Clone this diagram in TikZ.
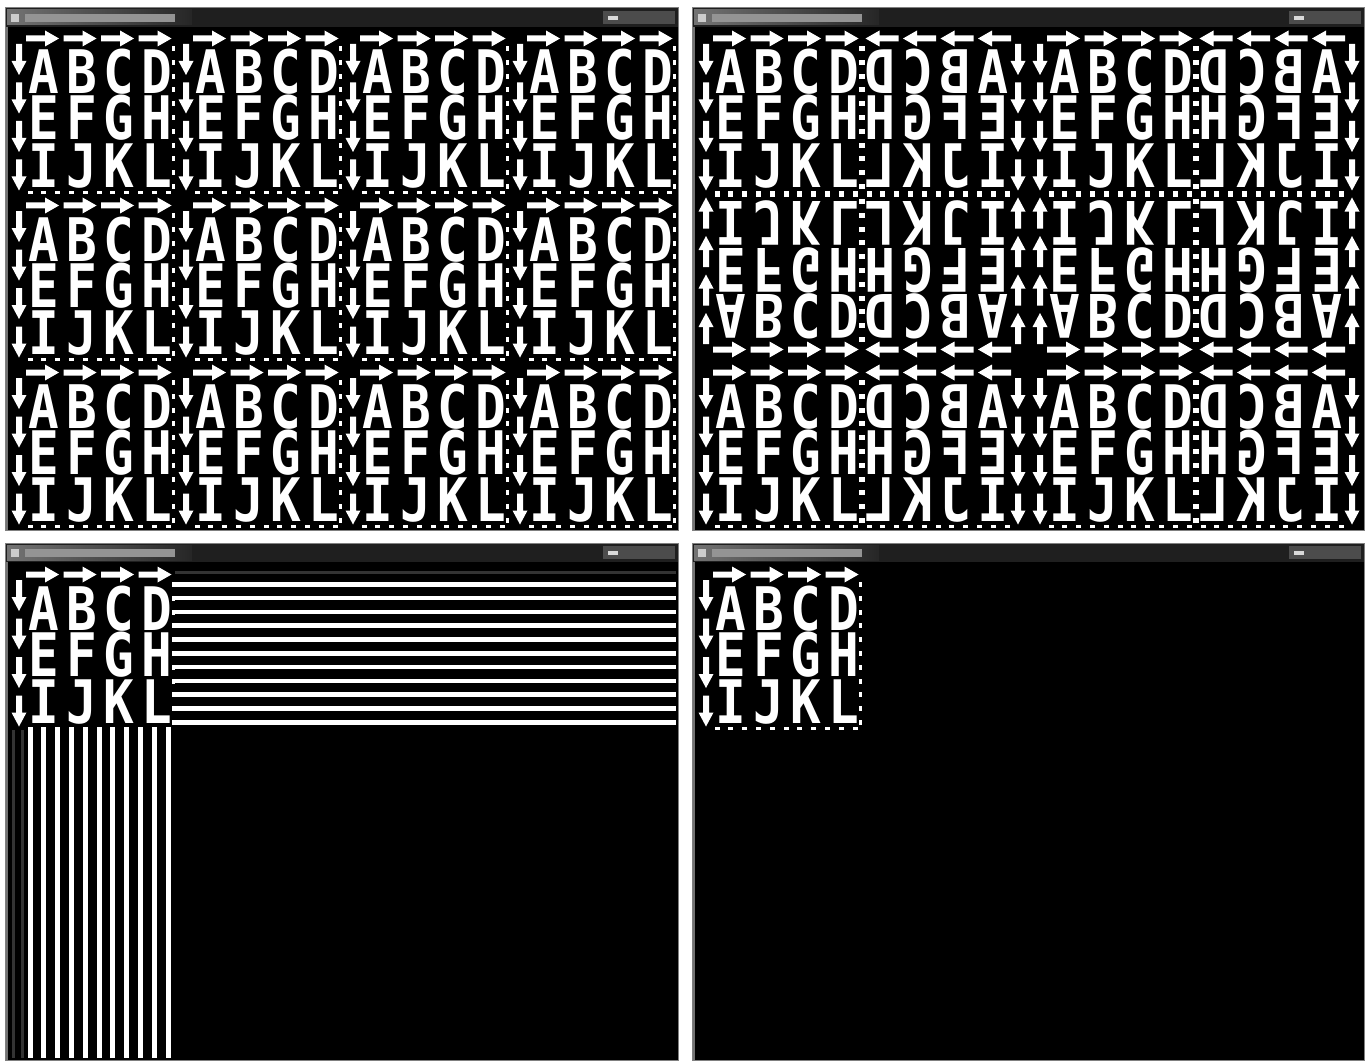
\documentclass[tikz,border=0pt]{standalone}
\usepackage{fontspec}
\newfontfamily\tilefont{DejaVu Sans Mono}
\tikzset{
 glyph/.style={font=\tilefont\bfseries\fontsize{60}{60}\selectfont, text=white, inner sep=0pt, anchor=base, text height=43pt, text depth=0pt, xscale=0.85, transform shape},
 ink/.style={fill=white, draw=none},
 stripe/.style={fill=white},
 faint/.style={fill=black!80},
}
\newcommand\rarr[2]{\fill[ink] (#1,#2-3) -- ++(19,0) -- ++(0,-5) -- ++(14,8) -- ++(-14,8) -- ++(0,-5) -- ++(-19,0) -- cycle;}
\newcommand\darr[2]{\fill[ink] (#1-3,#2) -- ++(0,17) -- ++(-4.5,0) -- ++(7.5,14) -- ++(7.5,-14) -- ++(-4.5,0) -- ++(0,-17) -- cycle;}
\newcommand\texturetile{%
 \foreach \k in {0,...,3}{\rarr{18+37.5*\k}{11.5}\darr{11}{17+38.5*\k}}%
 \foreach \c [count=\i from 0] in {A,B,C,D}{\node[glyph] (g\c) at ({36+37.5*\i},67) {\c};}%
 \foreach \c [count=\i from 0] in {E,F,G,H}{\node[glyph] (g\c) at ({36+37.5*\i},113) {\c};}%
 \foreach \c [count=\i from 0] in {I,J,K,L}{\node[glyph] (g\c) at ({36+37.5*\i},160) {\c};}%
 \foreach \k in {0,...,10}{\fill[ink] (164,{19+13.8*\k}) rectangle ++(3,5); \fill[ink] ({19.5+13.8*\k},164) rectangle ++(5,3);}%
}
\newcommand\winpanel[4]{%
 \fill[black] (#1,#2) rectangle ++(#3,#4);
 \fill[black!88] (#1,#2) rectangle ++(#3,19);
 \shade[left color=black!55, right color=black!85] (#1+2,#2+2) rectangle ++(185,15);
 \fill[black!42] (#1+20,#2+6) rectangle ++(150,8);
 \fill[black!20] (#1+6,#2+6) rectangle ++(8,8);
 \fill[black!70] (#1+#3-75,#2+3) rectangle ++(72,13);
 \fill[black!15] (#1+#3-70,#2+8) rectangle ++(10,4);
 \fill[black!55] (#1,#2+19) rectangle ++(3,#4-19);
 \draw[black!50, line width=1pt] (#1,#2) rectangle ++(#3,#4);
}
\begin{document}
\begin{tikzpicture}[x=1pt,y=-1pt]
\useasboundingbox[fill=white] (0,0) rectangle (1369,1062);
% top left: repeat
\winpanel{5}{8}{673}{522}
\foreach \r in {0,1,2}{\foreach \c in {0,...,3}{\begin{scope}[shift={({8+167*\c},{27+167*\r})}]\texturetile\end{scope}}}
% top right: mirrored repeat
\winpanel{692}{8}{672}{522}
\foreach \r in {0,1,2}{\foreach \c in {0,...,3}{%
 \pgfmathsetmacro\sx{mod(\c,2)==0 ? 1 : -1}%
 \pgfmathsetmacro\sy{mod(\r,2)==0 ? 1 : -1}%
 \pgfmathsetmacro\ox{695+167*\c+(1-\sx)/2*167}%
 \pgfmathsetmacro\oy{27+167*\r+(1-\sy)/2*167}%
 \begin{scope}[shift={(\ox,\oy)}, xscale=\sx, yscale=\sy]\texturetile\end{scope}}}
% bottom left: clamp to edge
\winpanel{5}{543}{673}{517}
\begin{scope}[shift={(8,563)}]\texturetile\end{scope}
\foreach \k in {0,...,10}{\fill[stripe] (175,{582+13.8*\k}) rectangle (676,{586.5+13.8*\k});}
\fill[faint] (175,571) rectangle (676,573.5);
\foreach \k in {0,...,10}{\fill[stripe] ({27.5+13.8*\k},730) rectangle ++(5,328);}
\fill[faint] (11.5,730) rectangle ++(3,328);
\fill[faint] (20.5,730) rectangle ++(3,328);
% bottom right: clamp to border
\winpanel{692}{543}{672}{517}
\begin{scope}[shift={(695,563)}]\texturetile\end{scope}
\end{tikzpicture}
\end{document}
